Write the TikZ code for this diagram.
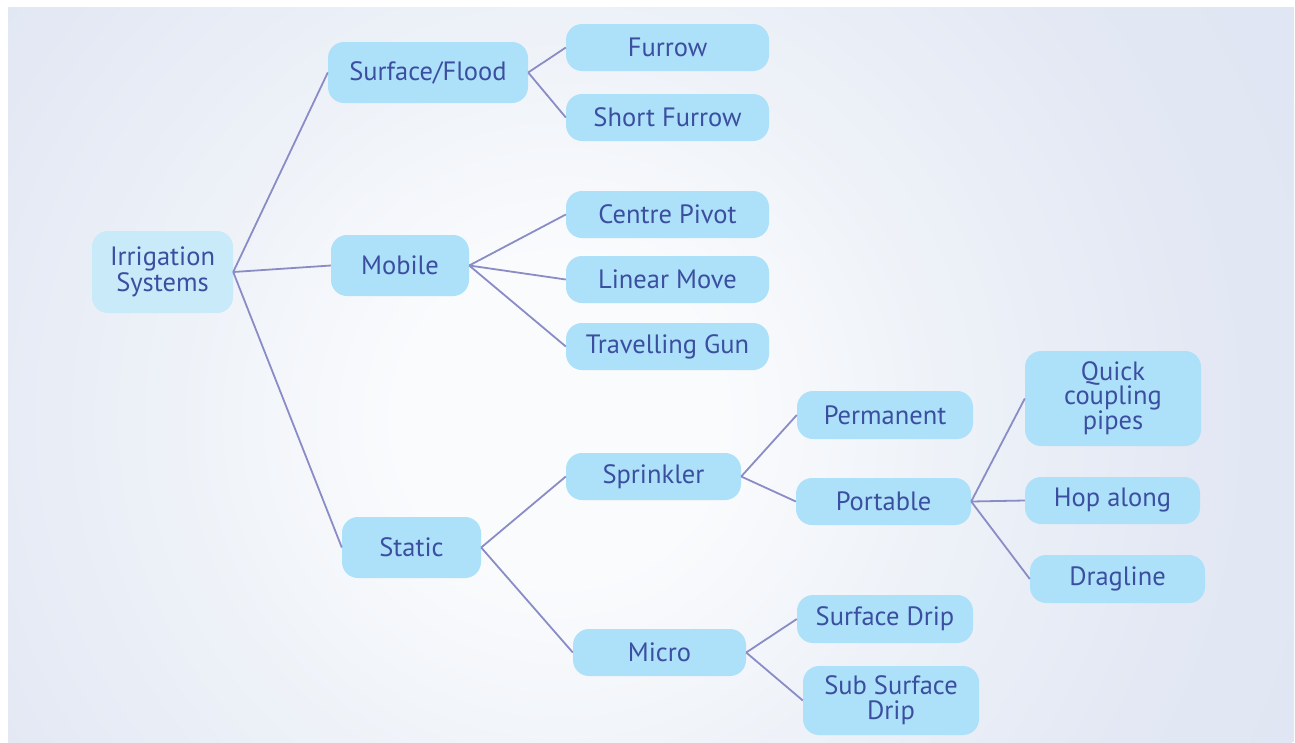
\documentclass[tikz,border=0pt]{standalone}
\usepackage{fontspec}
\setmainfont{PT Sans}
\definecolor{nodefill}{HTML}{ADE1F9}
\definecolor{rootfill}{HTML}{C8EAF9}
\definecolor{txt}{HTML}{3B4EA0}
\definecolor{edgec}{HTML}{8A8CC6}
\definecolor{bga}{HTML}{FAFBFD}
\definecolor{bgb}{HTML}{EEF2F8}
\definecolor{bgc}{HTML}{E3E8F4}
\definecolor{bgd}{HTML}{E0E6F3}
\pgfdeclareradialshading{bgshade}{\pgfpoint{0bp}{0bp}}{color(0bp)=(bga); color(5bp)=(bga); color(12bp)=(bgb); color(20bp)=(bgc); color(25bp)=(bgd); color(50bp)=(bgd)}
\begin{document}
\begin{tikzpicture}[x=1pt,y=-1pt,
  box/.style={fill=nodefill, rounded corners=16pt, text=txt,
    font=\fontsize{26.5}{26}\selectfont, align=center, inner sep=0pt,
    minimum height=47pt},
  link/.style={draw=edgec, line width=1.8pt}]
\useasboundingbox (0,0) rectangle (1295,742);
\fill[white] (0,0) rectangle (1295,742);
\begin{scope}
\clip (8,7) rectangle (1294,742);
\fill[bgd] (8,7) rectangle (1294,742);
\shade[shading=bgshade] (560,420) circle[radius=800];
\end{scope}

\node[box, fill=rootfill, minimum width=141pt, minimum height=82pt] (root) at (162.5,272) {Irrigation\\Systems};
\node[box, minimum width=200pt, minimum height=61pt] (sf) at (428,72.5) {Surface/Flood};
\node[box, minimum width=203pt] (furrow) at (667.5,47.5) {Furrow};
\node[box, minimum width=203pt] (short) at (667.5,117.5) {Short Furrow};
\node[box, minimum width=138pt, minimum height=61pt] (mobile) at (400,265.5) {Mobile};
\node[box, minimum width=203pt] (pivot) at (667.5,214.5) {Centre Pivot};
\node[box, minimum width=203pt] (linear) at (667.5,279.5) {Linear Move};
\node[box, minimum width=203pt] (gun) at (667.5,346.5) {Travelling Gun};
\node[box, minimum width=139pt, minimum height=61pt] (static) at (411.5,547.5) {Static};
\node[box, minimum width=175pt] (sprink) at (653.5,476.5) {Sprinkler};
\node[box, minimum width=173pt] (micro) at (659.5,652.5) {Micro};
\node[box, minimum width=176pt, minimum height=48pt] (perm) at (885,415) {Permanent};
\node[box, minimum width=175pt] (port) at (883.5,501.5) {Portable};
\node[box, minimum width=176pt, minimum height=95pt, font=\fontsize{26.5}{24}\selectfont] (quick) at (1113,398.5) {Quick\\coupling\\pipes};
\node[box, minimum width=175pt] (hop) at (1112.5,500.5) {Hop along};
\node[box, minimum width=175pt, minimum height=48pt] (drag) at (1117.5,579) {Dragline};
\node[box, minimum width=176pt, minimum height=48pt] (sdrip) at (885,619) {Surface Drip};
\node[box, minimum width=176pt, minimum height=69pt, font=\fontsize{26.5}{25}\selectfont] (subdrip) at (891,700.5) {Sub Surface\\Drip};

\foreach \a/\b in {root/sf, root/mobile, root/static,
  sf/furrow, sf/short,
  mobile/pivot, mobile/linear, mobile/gun,
  static/sprink, static/micro,
  sprink/perm, sprink/port,
  port/quick, port/hop, port/drag,
  micro/sdrip, micro/subdrip}
  \draw[link] (\a.east) -- (\b.west);
\end{tikzpicture}
\end{document}
